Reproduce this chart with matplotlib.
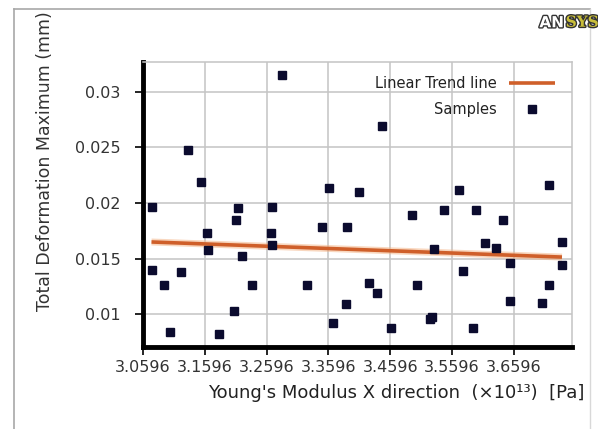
import matplotlib
matplotlib.use("Agg")
import matplotlib.pyplot as plt
import matplotlib.patheffects as pe
from matplotlib.lines import Line2D
import numpy as np

# sample points (modulus in 1e13 Pa, deformation in mm)
modulus = [3.0734, 3.0734, 3.0928, 3.1025, 3.1203, 3.1317, 3.1527, 3.1624,
           3.1641, 3.1819, 3.2062, 3.2094, 3.2126, 3.2191, 3.2353, 3.2661,
           3.2677, 3.2677, 3.2839, 3.3244, 3.3487, 3.3600, 3.3665, 3.3875,
           3.3891, 3.4086, 3.4248, 3.4377, 3.4458, 3.4604, 3.4944, 3.5025,
           3.5236, 3.5268, 3.5300, 3.5462, 3.5705, 3.5770, 3.5981, 3.5932,
           3.6126, 3.6304, 3.6418, 3.6531, 3.6531, 3.7049, 3.7163, 3.7163,
           3.7373, 3.7373]
deformation = [0.01964, 0.01396, 0.01261, 0.00838, 0.01378, 0.02477, 0.02189, 0.01730,
               0.01577, 0.00820, 0.01027, 0.01847, 0.01955, 0.01523, 0.01261, 0.01730,
               0.01622, 0.01964, 0.03153, 0.01261, 0.01784, 0.02135, 0.00919, 0.01090,
               0.01784, 0.02100, 0.01279, 0.01189, 0.02694, 0.00874, 0.01892, 0.01261,
               0.00955, 0.00973, 0.01586, 0.01937, 0.02117, 0.01387, 0.01937, 0.00874,
               0.01640, 0.01595, 0.01847, 0.01459, 0.01117, 0.01099, 0.01261, 0.02162,
               0.01649, 0.01441]

# trend line end points
trend_x = [3.0734, 3.7373]
trend_y = [0.01649, 0.01513]

xticks = [3.0596, 3.1596, 3.2596, 3.3596, 3.4596, 3.5596, 3.6596]
xtick_labels = ["3.0596", "3.1596", "3.2596", "3.3596", "3.4596", "3.5596", "3.6596"]
yticks = [0.01, 0.015, 0.02, 0.025, 0.03]
ytick_labels = ["0.01", "0.015", "0.02", "0.025", "0.03"]

trend_color = "#cf5f2a"
marker_color = "#0b0b2e"

fig = plt.figure(figsize=(5.98, 4.29), dpi=100)
ax = fig.add_axes([0.2391, 0.1911, 0.7174, 0.6644])

# outer panel frame (open at the bottom)
fig.add_artist(Line2D([14 / 598, 14 / 598], [0, 1 - 9 / 429], color="#a8a8a8", lw=1.2))
fig.add_artist(Line2D([14 / 598, 590 / 598], [1 - 9 / 429, 1 - 9 / 429], color="#a8a8a8", lw=1.2))
fig.add_artist(Line2D([590 / 598, 590 / 598], [0, 1 - 9 / 429], color="#d8d8d8", lw=1.0))

ax.plot(trend_x, trend_y, color="#f3b080", lw=5, alpha=0.5, solid_capstyle="butt", zorder=2)
ax.plot(trend_x, trend_y, color=trend_color, lw=2.6, solid_capstyle="butt", zorder=3,
        label="Linear Trend line")
ax.plot(modulus, deformation, ls="none", marker="s", ms=5.2, color=marker_color,
        zorder=4, label="Samples")

ax.set_xlim(3.0596, 3.7535)
ax.set_ylim(0.00703, 0.0327)
ax.set_xticks(xticks)
ax.set_xticklabels(xtick_labels)
ax.set_yticks(yticks)
ax.set_yticklabels(ytick_labels)
ax.tick_params(axis="both", labelsize=11.5, labelcolor="#333333", color="black",
               length=6, width=1.2, direction="out")
ax.tick_params(axis="y", pad=10)

ax.grid(True, color="#c4c4c4", lw=1.1)
ax.set_axisbelow(True)
for side in ["left", "bottom"]:
    ax.spines[side].set_color("black")
    ax.spines[side].set_linewidth(3.5)
for side in ["top", "right"]:
    ax.spines[side].set_color("#c4c4c4")
    ax.spines[side].set_linewidth(1.1)

ax.set_xlabel("Young's Modulus X direction  (\u00d710\u00b9\u00b3)  [Pa]", fontsize=13,
              color="#222222", labelpad=6, x=0.59)
fig.text(0.076, 0.625, "Total Deformation Maximum (mm)", rotation=90, fontsize=12.5,
         color="#333333", ha="center", va="center")

leg = ax.legend(loc="upper right", frameon=False, markerfirst=False, fontsize=10.5,
                handlelength=3.2, borderaxespad=0.3, labelspacing=0.75,
                bbox_to_anchor=(0.985, 0.985))
for t in leg.get_texts():
    t.set_color("#222222")
    t.set_ha("right")

# ANSYS logo text
outline = [pe.withStroke(linewidth=2.0, foreground="#333333")]
fig.text(0.902, 0.947, "AN", fontsize=11, color="white", fontweight="bold",
         ha="left", va="center", path_effects=outline)
fig.text(0.946, 0.947, "SYS", fontsize=11, color="#c9be3a", fontweight="bold",
         ha="left", va="center", path_effects=outline, family="DejaVu Serif")

fig.savefig("out.png", dpi=100)
